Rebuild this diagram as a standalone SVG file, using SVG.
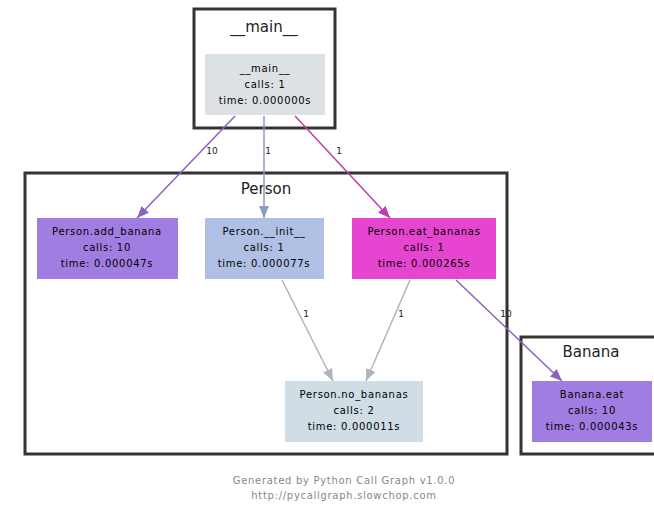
<svg xmlns="http://www.w3.org/2000/svg" width="654" height="505" viewBox="0 0 654 505">
<style>
.cl{fill:#fff;stroke:#333;stroke-width:3}
.clt{font-family:"DejaVu Sans",sans-serif;font-size:15px;fill:#222;text-anchor:middle}
.nt{font-family:"DejaVu Sans",sans-serif;font-size:10px;letter-spacing:0.7px;fill:#000;text-anchor:middle}
.el{font-family:"DejaVu Sans",sans-serif;font-size:9px;fill:#222;text-anchor:middle}
.ft{font-family:"DejaVu Sans",sans-serif;font-size:10px;letter-spacing:0.7px;fill:#888;text-anchor:middle}
.e{fill:none;stroke-width:1.5}
</style>
<defs>
<marker id="ap" viewBox="0 0 12 10" refX="12" refY="5" markerWidth="12" markerHeight="10" markerUnits="userSpaceOnUse" orient="auto"><path d="M0,0 L12,5 L0,10 Z" fill="#8a63bf"/></marker>
<marker id="ab" viewBox="0 0 12 10" refX="12" refY="5" markerWidth="12" markerHeight="10" markerUnits="userSpaceOnUse" orient="auto"><path d="M0,0 L12,5 L0,10 Z" fill="#8c9dbb"/></marker>
<marker id="am" viewBox="0 0 12 10" refX="12" refY="5" markerWidth="12" markerHeight="10" markerUnits="userSpaceOnUse" orient="auto"><path d="M0,0 L12,5 L0,10 Z" fill="#c03cae"/></marker>
<marker id="ag" viewBox="0 0 12 10" refX="12" refY="5" markerWidth="12" markerHeight="10" markerUnits="userSpaceOnUse" orient="auto"><path d="M0,0 L12,5 L0,10 Z" fill="#aeb6b9"/></marker>
</defs>
<rect width="654" height="505" fill="#fff"/>
<g id="cluster-main"><rect class="cl" x="194" y="9" width="141" height="119"/><text class="clt" x="264" y="32">__main__</text></g>
<g id="cluster-person"><rect class="cl" x="25" y="173" width="482" height="281"/><text class="clt" x="266" y="194">Person</text></g>
<g id="cluster-banana"><rect class="cl" x="521" y="337" width="140" height="117"/><text class="clt" x="591" y="357">Banana</text></g>
<g id="edges">
<path class="e" d="M235,116 L137,218" stroke="#8a63bf" marker-end="url(#ap)"/>
<text class="el" x="212" y="154">10</text>
<path class="e" d="M264,116 L264,218" stroke="#8c9dbb" marker-end="url(#ab)"/>
<text class="el" x="268" y="154">1</text>
<path class="e" d="M295,116 L390,218" stroke="#c03cae" marker-end="url(#am)"/>
<text class="el" x="339" y="154">1</text>
<path class="e" d="M282,280 L333,381" stroke="#aeb6b9" marker-end="url(#ag)"/>
<text class="el" x="306" y="317">1</text>
<path class="e" d="M410,280 L366,381" stroke="#aeb6b9" marker-end="url(#ag)"/>
<text class="el" x="401" y="317">1</text>
<path class="e" d="M456,280 L562,381" stroke="#8a63bf" marker-end="url(#ap)"/>
<text class="el" x="506" y="317">10</text>
</g>
<g id="node-main"><rect x="205" y="54" width="120" height="61" fill="#dce2e4"/><text class="nt" x="265" y="72">__main__</text><text class="nt" x="265" y="88">calls: 1</text><text class="nt" x="265" y="104">time: 0.000000s</text></g>
<g id="node-add_banana"><rect x="37" y="218" width="141" height="61" fill="#a07de0"/><text class="nt" x="107" y="235">Person.add_banana</text><text class="nt" x="107" y="251">calls: 10</text><text class="nt" x="107" y="267">time: 0.000047s</text></g>
<g id="node-init"><rect x="205" y="218" width="119" height="61" fill="#afc0e4"/><text class="nt" x="264" y="235">Person.__init__</text><text class="nt" x="264" y="251">calls: 1</text><text class="nt" x="264" y="267">time: 0.000077s</text></g>
<g id="node-eat_bananas"><rect x="352" y="218" width="144" height="61" fill="#e645d0"/><text class="nt" x="424" y="235">Person.eat_bananas</text><text class="nt" x="424" y="251">calls: 1</text><text class="nt" x="424" y="267">time: 0.000265s</text></g>
<g id="node-no_bananas"><rect x="285" y="381" width="138" height="61" fill="#d0dde4"/><text class="nt" x="354" y="398">Person.no_bananas</text><text class="nt" x="354" y="414">calls: 2</text><text class="nt" x="354" y="430">time: 0.000011s</text></g>
<g id="node-banana_eat"><rect x="532" y="381" width="120" height="61" fill="#a07de0"/><text class="nt" x="592" y="398">Banana.eat</text><text class="nt" x="592" y="414">calls: 10</text><text class="nt" x="592" y="430">time: 0.000043s</text></g>
<g id="footer"><text class="ft" x="344" y="484">Generated by Python Call Graph v1.0.0</text><text class="ft" x="344" y="499">http://pycallgraph.slowchop.com</text></g>
</svg>
